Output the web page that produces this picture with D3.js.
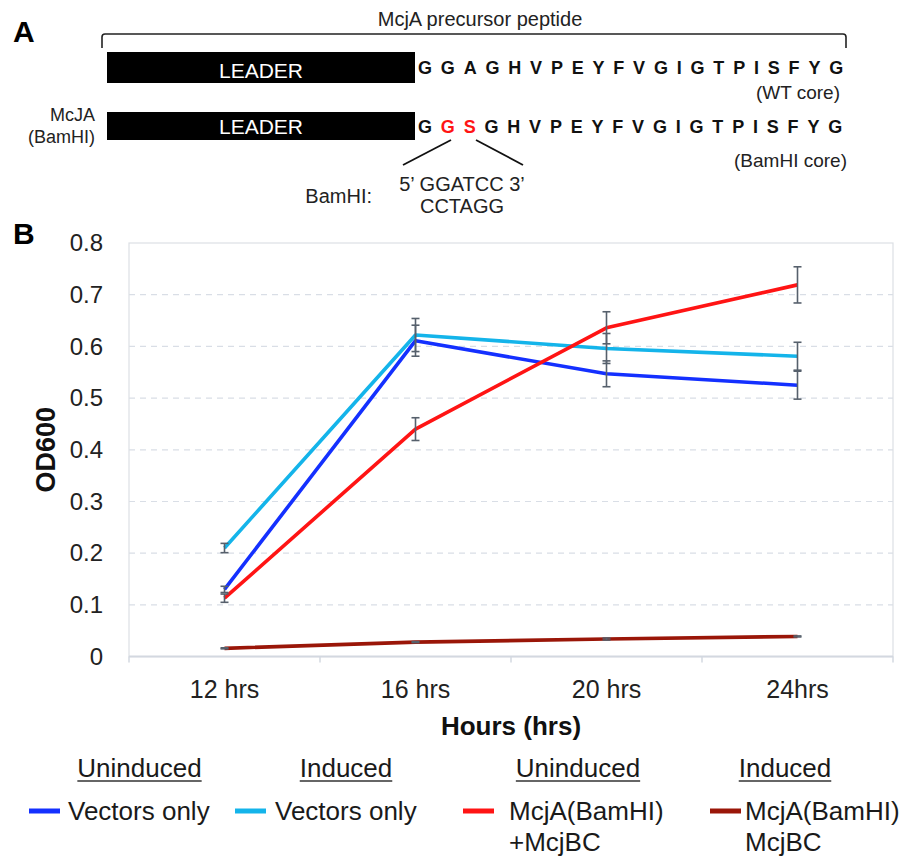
<!DOCTYPE html>
<html>
<head>
<meta charset="utf-8">
<script src="https://cdn.jsdelivr.net/npm/d3@7"></script>
<style>
  html, body { margin: 0; padding: 0; background: #fff; }
  svg { display: block; font-family: "Liberation Sans", Arial, Helvetica, sans-serif; }
</style>
</head>
<body>
<svg id="chart" width="907" height="859"></svg>
<script>
// ---------- data ----------
const hours = ["12 hrs", "16 hrs", "20 hrs", "24hrs"];
const yTickValues = [0, 0.1, 0.2, 0.3, 0.4, 0.5, 0.6, 0.7, 0.8];
const yTickLabels = ["0", "0.1", "0.2", "0.3", "0.4", "0.5", "0.6", "0.7", "0.8"];

const uninducedVectors    = [0.130, 0.611, 0.547, 0.525];
const uninducedVectorsErr = [0.006, 0.030, 0.025, 0.027];
const inducedVectors      = [0.210, 0.622, 0.596, 0.581];
const inducedVectorsErr   = [0.009, 0.032, 0.029, 0.027];
const uninducedMcjA       = [0.113, 0.440, 0.636, 0.719];
const uninducedMcjAErr    = [0.008, 0.022, 0.031, 0.035];
const inducedMcjA         = [0.016, 0.028, 0.034, 0.039];
const inducedMcjAErr      = [0.001, 0.001, 0.002, 0.001];

const seriesNames  = ["Vectors only", "Vectors only", "McjA(BamHI)\n+McjBC", "McjA(BamHI)\nMcjBC"];
const seriesGroups = ["Uninduced", "Induced", "Uninduced", "Induced"];
const seriesColors = ["#1430ff", "#14b4ea", "#ff1414", "#9a1608"];

const wtCore    = "GGAGHVPEYFVGIGTPISFYG".split("");
const bamCore   = "GGSGHVPEYFVGIGTPISFYG".split("");
const bamMutIdx = [1, 2];

// ---------- setup ----------
const svg = d3.select("#chart");
const font = '"Liberation Sans", Arial, Helvetica, sans-serif';

// ================= Panel A =================
const A = svg.append("g");
A.append("text").attr("x", 13).attr("y", 42).attr("font-size", 30).attr("font-weight", "bold").text("A");

A.append("text").attr("x", 480).attr("y", 26).attr("text-anchor", "middle")
  .attr("font-size", 20).attr("fill", "#222").text("McjA precursor peptide");

A.append("path").attr("d", "M102,48 V37 Q102,34 105,34 H843 Q846,34 846,37 V48")
  .attr("fill", "none").attr("stroke", "#222").attr("stroke-width", 1.6);

// leader boxes
[[52, 83, 77.5], [112, 140, 133.5]].forEach(([y0, y1, ty]) => {
  A.append("rect").attr("x", 107).attr("y", y0).attr("width", 308).attr("height", y1 - y0).attr("fill", "#000");
  A.append("text").attr("x", 261).attr("y", ty).attr("text-anchor", "middle")
    .attr("font-size", 21).attr("fill", "#fff").text("LEADER");
});

function seqText(letters, y, redIdx) {
  const t = A.append("text").attr("x", 418).attr("y", y).attr("font-size", 18)
    .attr("font-weight", "bold").attr("letter-spacing", 8.8);
  letters.forEach((ch, i) => {
    t.append("tspan").attr("fill", redIdx.includes(i) ? "#ff1414" : "#111").text(ch);
  });
}
seqText(wtCore, 74, []);
seqText(bamCore, 133, bamMutIdx);

A.append("text").attr("x", 840).attr("y", 99).attr("text-anchor", "end").attr("font-size", 19).attr("fill", "#222").text("(WT core)");
A.append("text").attr("x", 847).attr("y", 167).attr("text-anchor", "end").attr("font-size", 19).attr("fill", "#222").text("(BamHI core)");

A.append("text").attr("x", 95).attr("y", 121).attr("text-anchor", "end").attr("font-size", 18).attr("fill", "#222").text("McJA");
A.append("text").attr("x", 95).attr("y", 143).attr("text-anchor", "end").attr("font-size", 18).attr("fill", "#222").text("(BamHI)");

A.append("line").attr("x1", 451).attr("y1", 140).attr("x2", 403).attr("y2", 165).attr("stroke", "#111").attr("stroke-width", 1.8);
A.append("line").attr("x1", 476).attr("y1", 140).attr("x2", 523).attr("y2", 165).attr("stroke", "#111").attr("stroke-width", 1.8);

A.append("text").attr("x", 372).attr("y", 203).attr("text-anchor", "end").attr("font-size", 20).attr("fill", "#222").text("BamHI:");
A.append("text").attr("x", 462).attr("y", 191).attr("text-anchor", "middle").attr("font-size", 20).attr("fill", "#222").text("5\u2019 GGATCC 3\u2019");
A.append("text").attr("x", 462).attr("y", 213).attr("text-anchor", "middle").attr("font-size", 20).attr("fill", "#222").text("CCTAGG");

// ================= Panel B =================
svg.append("text").attr("x", 13).attr("y", 244).attr("font-size", 30).attr("font-weight", "bold").text("B");

const plot = { left: 129, right: 893, top: 243, bottom: 656.6 };
const x = d3.scaleBand().domain(hours).range([plot.left, plot.right]);
const y = d3.scaleLinear().domain([0, 0.8]).range([plot.bottom, plot.top]);

const B = svg.append("g");

// gridlines (dashed)
B.append("g").selectAll("line").data(yTickValues.filter(v => v > 0 && v < 0.8)).join("line")
  .attr("x1", plot.left).attr("x2", plot.right)
  .attr("y1", d => y(d)).attr("y2", d => y(d))
  .attr("stroke", "#d9dee6").attr("stroke-width", 1.2).attr("stroke-dasharray", "6,5");

// frame
B.append("rect").attr("x", plot.left).attr("y", plot.top)
  .attr("width", plot.right - plot.left).attr("height", plot.bottom - plot.top)
  .attr("fill", "none").attr("stroke", "#dcdfe4").attr("stroke-width", 1.2);
B.append("line").attr("x1", plot.left).attr("x2", plot.right).attr("y1", plot.bottom).attr("y2", plot.bottom)
  .attr("stroke", "#d3d8e0").attr("stroke-width", 2);

// x tick marks at category boundaries
const boundaries = hours.map(h => x(h)).concat([x(hours[hours.length - 1]) + x.bandwidth()]);
B.append("g").selectAll("line").data(boundaries).join("line")
  .attr("x1", d => d).attr("x2", d => d).attr("y1", plot.bottom).attr("y2", plot.bottom + 6)
  .attr("stroke", "#d3d8e0").attr("stroke-width", 1.5);

// y axis labels
const yAxis = d3.axisLeft(y).tickValues(yTickValues).tickSize(0).tickPadding(0)
  .tickFormat((d, i) => yTickLabels[i]);
const gy = B.append("g").attr("transform", `translate(103,0)`).call(yAxis);
gy.select(".domain").remove();
gy.selectAll("text").attr("font-size", 24).attr("font-family", font).attr("fill", "#222");

// x axis labels
const xAxis = d3.axisBottom(x).tickSize(0).tickPadding(0);
const gx = B.append("g").attr("transform", `translate(0,${plot.bottom + 24})`).call(xAxis);
gx.select(".domain").remove();
gx.selectAll("text").attr("font-size", 25).attr("font-family", font).attr("fill", "#222");

// axis titles
B.append("text").attr("x", (plot.left + plot.right) / 2).attr("y", 735).attr("text-anchor", "middle")
  .attr("font-size", 26).attr("font-weight", "bold").attr("fill", "#111").text("Hours (hrs)");
B.append("text").attr("transform", `translate(55,${(plot.top + plot.bottom) / 2}) rotate(-90)`)
  .attr("text-anchor", "middle").attr("font-size", 27).attr("font-weight", "bold").attr("fill", "#111").text("OD600");

// series
const series = [
  { values: uninducedVectors, err: uninducedVectorsErr, color: seriesColors[0] },
  { values: inducedVectors,   err: inducedVectorsErr,   color: seriesColors[1] },
  { values: uninducedMcjA,    err: uninducedMcjAErr,    color: seriesColors[2] },
  { values: inducedMcjA,      err: inducedMcjAErr,      color: seriesColors[3] }
];
const cx = h => x(h) + x.bandwidth() / 2;
const line = d3.line().x((d, i) => cx(hours[i])).y(d => y(d));

series.forEach(s => {
  B.append("path").datum(s.values).attr("d", line)
    .attr("fill", "none").attr("stroke", s.color).attr("stroke-width", 3.6)
    .attr("stroke-linejoin", "round");
});
series.forEach(s => {
  const g = B.append("g").attr("stroke", "#56606c").attr("stroke-width", 1.6);
  s.values.forEach((v, i) => {
    const px = cx(hours[i]);
    const hi = y(v + s.err[i]), lo = y(v - s.err[i]);
    g.append("line").attr("x1", px).attr("x2", px).attr("y1", hi).attr("y2", lo);
    g.append("line").attr("x1", px - 4).attr("x2", px + 4).attr("y1", hi).attr("y2", hi);
    g.append("line").attr("x1", px - 4).attr("x2", px + 4).attr("y1", lo).attr("y2", lo);
  });
});

// legend
const legendPos = [
  { head: 139.5, sw: 29, tx: 68 },
  { head: 346,   sw: 235, tx: 275 },
  { head: 578,   sw: 463, tx: 509 },
  { head: 785,   sw: 710, tx: 745 }
];
const L = svg.append("g").attr("font-size", 26).attr("fill", "#1a1a1a");
seriesGroups.forEach((grp, i) => {
  const p = legendPos[i];
  const t = L.append("text").attr("x", p.head).attr("y", 777).attr("text-anchor", "middle").text(grp);
  const w = t.node().getComputedTextLength();
  L.append("line").attr("x1", p.head - w / 2).attr("x2", p.head + w / 2).attr("y1", 781).attr("y2", 781)
    .attr("stroke", "#333").attr("stroke-width", 1.5);
  L.append("line").attr("x1", p.sw).attr("x2", p.sw + 31).attr("y1", 811).attr("y2", 811)
    .attr("stroke", seriesColors[i]).attr("stroke-width", 5);
  seriesNames[i].split("\n").forEach((ln, j) => {
    L.append("text").attr("x", p.tx).attr("y", 820 + j * 31).text(ln);
  });
});
</script>
</body>
</html>
